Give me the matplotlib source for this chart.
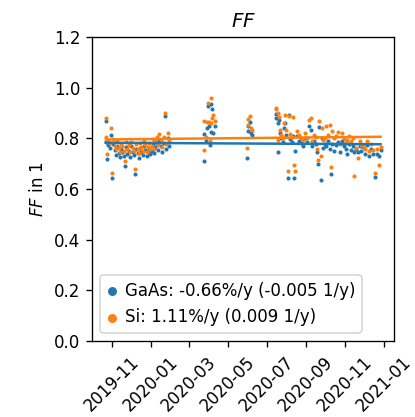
import matplotlib
matplotlib.use('Agg')
import matplotlib.pyplot as plt
import matplotlib.dates as mdates
import numpy as np
import pandas as pd


# measurement days and fill factors (GaAs, Si)
dates = [
    '2019-10-22', '2019-10-23', '2019-10-24', '2019-10-26', '2019-10-28', '2019-10-30',
    '2019-11-01', '2019-11-03', '2019-11-05', '2019-11-07', '2019-11-09', '2019-11-11',
    '2019-11-13', '2019-11-15', '2019-11-17', '2019-11-19', '2019-11-21', '2019-11-23',
    '2019-11-25', '2019-11-27', '2019-11-29', '2019-12-01', '2019-12-03', '2019-12-05',
    '2019-12-07', '2019-12-09', '2019-12-11', '2019-12-13', '2019-12-15', '2019-12-17',
    '2019-12-19', '2019-12-21', '2019-12-23', '2019-12-25', '2019-12-27', '2019-12-29',
    '2019-12-31', '2020-01-02', '2020-01-04', '2020-01-06', '2020-01-08', '2020-01-10',
    '2020-01-12', '2020-01-14', '2020-01-16', '2020-01-18', '2020-01-23', '2020-01-21',
    '2020-01-25', '2020-01-27', '2020-01-29',
    '2020-03-24', '2020-03-25', '2020-03-27', '2020-03-29', '2020-03-31', '2020-04-02',
    '2020-04-03', '2020-04-04', '2020-04-05', '2020-04-06', '2020-04-08', '2020-04-10',
    '2020-05-31', '2020-06-01', '2020-06-02', '2020-06-04', '2020-06-06', '2020-06-08',
    '2020-07-15', '2020-07-16', '2020-07-18', '2020-07-19', '2020-07-21', '2020-07-22',
    '2020-07-24', '2020-07-26', '2020-07-28', '2020-07-30', '2020-08-01', '2020-08-03',
    '2020-08-05', '2020-08-07', '2020-08-09', '2020-08-11', '2020-08-13', '2020-08-15',
    '2020-08-18', '2020-08-21', '2020-08-24', '2020-08-27', '2020-08-30', '2020-09-02',
    '2020-09-05', '2020-09-08', '2020-09-10', '2020-09-13', '2020-09-16', '2020-09-18',
    '2020-09-20', '2020-09-22', '2020-09-24', '2020-09-26', '2020-09-28', '2020-09-30',
    '2020-10-03', '2020-10-05', '2020-10-08', '2020-10-10', '2020-10-12', '2020-10-15',
    '2020-10-18', '2020-10-21', '2020-10-24', '2020-10-27', '2020-10-30', '2020-11-02',
    '2020-11-05', '2020-11-07', '2020-11-10', '2020-11-13', '2020-11-15', '2020-11-18',
    '2020-11-21', '2020-11-24', '2020-11-27', '2020-11-30', '2020-12-03', '2020-12-06',
    '2020-12-09', '2020-12-12', '2020-12-15', '2020-12-18', '2020-12-21', '2020-12-24',
    '2020-12-27',
]

ff_gaas = [
    0.870, 0.787, 0.718, 0.775, 0.762, 0.813,
    0.645, 0.780, 0.755, 0.735, 0.770, 0.742,
    0.725, 0.760, 0.748, 0.732, 0.690, 0.765,
    0.740, 0.752, 0.728, 0.770, 0.745, 0.735,
    0.660, 0.758, 0.741, 0.722, 0.762, 0.748,
    0.735, 0.772, 0.756, 0.729, 0.745, 0.760,
    0.738, 0.752, 0.775, 0.742, 0.765, 0.782,
    0.755, 0.795, 0.770, 0.748, 0.888, 0.782,
    0.760, 0.800, 0.770,
    0.712, 0.817, 0.790, 0.842, 0.928, 0.850,
    0.774, 0.935, 0.826, 0.915, 0.820, 0.849,
    0.721, 0.830, 0.849, 0.865, 0.820, 0.815,
    0.879, 0.895, 0.860, 0.747, 0.872, 0.820,
    0.800, 0.785, 0.840, 0.860, 0.812, 0.645,
    0.892, 0.798, 0.787, 0.810, 0.645, 0.750,
    0.808, 0.790, 0.781, 0.770, 0.800, 0.784,
    0.850, 0.833, 0.770, 0.790, 0.780, 0.745,
    0.701, 0.845, 0.636, 0.800, 0.763, 0.780,
    0.770, 0.790, 0.760, 0.659, 0.780, 0.750,
    0.775, 0.784, 0.747, 0.790, 0.770, 0.760,
    0.737, 0.780, 0.755, 0.770, 0.745, 0.760,
    0.745, 0.770, 0.750, 0.765, 0.740, 0.775,
    0.730, 0.760, 0.740, 0.649, 0.740, 0.730,
    0.755,
]

ff_si = [
    0.879, 0.807, 0.738, 0.790, 0.781, 0.840,
    0.662, 0.796, 0.772, 0.760, 0.788, 0.764,
    0.748, 0.779, 0.770, 0.752, 0.711, 0.785,
    0.758, 0.776, 0.745, 0.786, 0.764, 0.750,
    0.678, 0.778, 0.759, 0.742, 0.781, 0.768,
    0.752, 0.790, 0.776, 0.748, 0.765, 0.781,
    0.757, 0.772, 0.796, 0.760, 0.788, 0.805,
    0.775, 0.818, 0.792, 0.768, 0.899, 0.805,
    0.778, 0.820, 0.790,
    0.754, 0.869, 0.807, 0.865, 0.941, 0.866,
    0.790, 0.958, 0.860, 0.880, 0.892, 0.870,
    0.761, 0.855, 0.875, 0.888, 0.840, 0.835,
    0.922, 0.918, 0.899, 0.794, 0.885, 0.833,
    0.815, 0.800, 0.860, 0.892, 0.832, 0.671,
    0.888, 0.818, 0.805, 0.886, 0.695, 0.671,
    0.829, 0.812, 0.800, 0.792, 0.820, 0.803,
    0.872, 0.879, 0.790, 0.812, 0.805, 0.760,
    0.715, 0.869, 0.732, 0.840, 0.794, 0.800,
    0.850, 0.812, 0.853, 0.688, 0.830, 0.800,
    0.810, 0.825, 0.780, 0.820, 0.800, 0.790,
    0.794, 0.810, 0.790, 0.800, 0.652, 0.763,
    0.721, 0.790, 0.775, 0.770, 0.760, 0.790,
    0.750, 0.780, 0.755, 0.664, 0.760, 0.695,
    0.765,
]

# linear trends: value at first day, slope in 1/y
gaas_start, gaas_slope = 0.783, -0.005
si_start, si_slope = 0.796, 0.009

label_gaas = 'GaAs: -0.66%/y (-0.005 1/y)'
label_si = 'Si: 1.11%/y (0.009 1/y)'


t = pd.to_datetime(dates)
years = (t - t.min()).days / 365.25
t_fit = [t.min(), t.max()]
y_fit = np.array([0, years.max()])

dpi = 120
fig = plt.figure(figsize=(415 / dpi, 417 / dpi), dpi=dpi)
ax = fig.add_axes([0.222, 0.182, 0.728, 0.729])

ax.scatter(t, ff_gaas, s=6, color='C0', linewidths=0, label=label_gaas)
ax.plot(t_fit, gaas_start + gaas_slope * y_fit, color='C0')
ax.scatter(t, ff_si, s=6, color='C1', linewidths=0, label=label_si)
ax.plot(t_fit, si_start + si_slope * y_fit, color='C1')

ax.set_ylim(0, 1.2)
ax.set_yticks(np.arange(0, 1.21, 0.2))
ax.xaxis.set_major_locator(mdates.MonthLocator(bymonth=[1, 3, 5, 7, 9, 11]))
ax.xaxis.set_major_formatter(mdates.DateFormatter('%Y-%m'))
plt.setp(ax.get_xticklabels(), rotation=45)

ax.set_title('$FF$')
ax.set_ylabel('$FF$ in 1')
ax.legend(loc='lower left', handlelength=0.6, handletextpad=0.45, markerscale=2.2)

fig.savefig('out.png', dpi=dpi)
